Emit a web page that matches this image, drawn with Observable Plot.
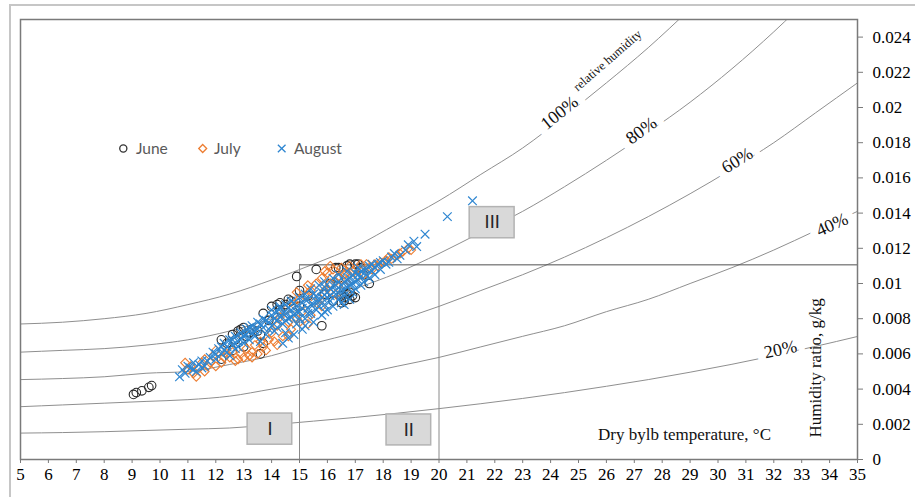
<!DOCTYPE html>
<html><head><meta charset="utf-8">
<script src="https://cdn.jsdelivr.net/npm/d3@7"></script>
<script src="https://cdn.jsdelivr.net/npm/@observablehq/plot@0.6"></script>
<style>
html,body{margin:0;padding:0;background:#fff;}
#wrap{position:relative;width:915px;height:497px;overflow:hidden;}
#border{position:absolute;left:9px;top:4px;right:-5px;bottom:-5px;border-top:2px solid #c6c6c6;border-left:2px solid #c6c6c6;pointer-events:none;}
#legend{position:absolute;left:0;top:0;pointer-events:none;}
</style></head>
<body><div id="wrap"></div>
<script>
// ---- axis ticks ----
const xTicks = [5,6,7,8,9,10,11,12,13,14,15,16,17,18,19,20,21,22,23,24,25,26,27,28,29,30,31,32,33,34,35];
const yTicks = [0,0.002,0.004,0.006,0.008,0.01,0.012,0.014,0.016,0.018,0.02,0.022,0.024];
const yTickLabels = ["0","0.002","0.004","0.006","0.008","0.01","0.012","0.014","0.016","0.018","0.02","0.022","0.024"];

// ---- relative humidity curves ----
const rhTemps = [5,6.5,8,9.5,11,12.5,14,15.5,17,18.5,20,21.5,23,24.5,26,27.5,29,30.5,32,33.5,35];
const rh100 = [0.0077,0.0078,0.0080,0.0083,0.0088,0.0094,0.0102,0.0111,0.0121,0.0134,0.0147,0.0162,0.0177,0.0195,0.0214,0.0234,0.0256,null,null,null,null];
const rh80  = [0.0061,0.0062,0.0063,0.0065,0.0068,0.0073,0.0080,0.0088,0.0097,0.0106,0.0117,0.0129,0.0141,0.0155,0.0170,0.0186,0.0203,0.0222,0.0243,0.0266,null];
const rh60  = [0.00454,0.0046,0.0047,0.0049,0.0050,0.0054,0.0059,0.0066,0.0072,0.0079,0.0087,0.0096,0.0105,0.0115,0.0126,0.0138,0.0151,0.0165,0.0180,0.0197,0.0214];
const rh40  = [0.0030,0.0031,0.0032,0.0033,0.0034,0.0036,0.0040,0.0044,0.0048,0.0053,0.0058,0.0064,0.0070,0.0076,0.0084,0.0091,0.0100,0.0109,0.0119,0.0130,0.0141];
const rh20  = [0.0015,0.00153,0.00158,0.00165,0.00172,0.00179,0.00197,0.00218,0.00239,0.00263,0.00289,0.00317,0.00347,0.00380,0.00416,0.00454,0.00496,0.00541,0.00590,0.00643,0.00699];
const rhNames = ["100%","80%","60%","40%","20%"];
const rhLabels = [
  {text:"100%", t:24.32, w:0.0197,  angle:-39},
  {text:"80%",  t:27.25, w:0.01869, angle:-36},
  {text:"60%",  t:30.69, w:0.01699, angle:-32},
  {text:"40%",  t:34.09, w:0.01334, angle:-24},
  {text:"20%",  t:32.24, w:0.00625, angle:-12}
];

// ---- measurements [temperature °C, humidity ratio kg/kg] ----
const june = [[9.05,0.0037],[9.15,0.0038],[9.35,0.0039],[9.6,0.0041],[9.7,0.0042],
 [12.2,0.0068],[12.2,0.0057],[12.6,0.0062],[12.6,0.0071],[12.8,0.0073],[12.9,0.0074],[13.0,0.0075],[13.0,0.0064],
 [13.2,0.0072],[13.5,0.0073],[13.6,0.0071],[13.6,0.0060],[13.7,0.0066],[13.7,0.0083],[13.9,0.0079],[14.2,0.0088],
 [14.3,0.0089],[14.3,0.0085],[14.5,0.0088],[14.7,0.0090],[14.9,0.0104],[15.0,0.0096],[15.0,0.0087],[15.3,0.0093],
 [15.6,0.0108],[15.8,0.0076],[15.9,0.0094],[16.2,0.0090],[16.4,0.0103],[16.5,0.0089],[16.5,0.0093],[16.6,0.0092],
 [16.6,0.0098],[16.7,0.0110],[16.7,0.0094],[16.8,0.0091],[16.8,0.0111],[16.9,0.0093],[17.1,0.0111],[17.2,0.0109],
 [17.3,0.0105],[17.5,0.0100],[16.4,0.0109],[16.1,0.0100],
 [12.4,0.0066],[12.7,0.0068],[13.1,0.0070],[13.3,0.0074],[14.0,0.0087],[14.6,0.0091],[16.6,0.0090],[16.8,0.0095],
 [17.0,0.0092],[16.3,0.0109],[17.0,0.0111]];
const july = [[10.9,0.0055],[11.0,0.0051],[11.1,0.0053],[11.2,0.0049],[11.3,0.0047],[11.4,0.0052],[11.5,0.0055],
 [11.6,0.0050],[11.6,0.0057],[11.7,0.0053],[11.8,0.0055],[11.9,0.0059],[12.0,0.0053],[12.0,0.0062],[12.2,0.0055],
 [12.3,0.0058],[12.5,0.0058],[12.6,0.0061],[12.8,0.0057],[12.9,0.0060],[13.0,0.0058],[13.1,0.0063],[13.2,0.0059],
 [13.3,0.0061],[13.4,0.0065],[13.5,0.0060],[13.6,0.0067],[13.7,0.0064],[13.9,0.0068],[14.0,0.0072],[14.1,0.0067],
 [14.2,0.0076],[14.3,0.0081],[14.4,0.0070],[14.5,0.0085],[14.6,0.0078],[14.7,0.0074],[14.8,0.0088],[14.9,0.0080],
 [15.0,0.0091],[15.1,0.0084],[15.2,0.0093],[15.3,0.0077],[15.4,0.0096],[15.5,0.0089],[15.6,0.0100],[15.7,0.0092],
 [15.8,0.0103],[15.9,0.0096],[16.0,0.0106],[16.1,0.0100],[16.2,0.0108],[16.3,0.0094],[16.4,0.0104],[16.5,0.0109],
 [16.6,0.0099],[16.7,0.0106],[16.8,0.0110],[16.9,0.0102],[17.0,0.0108],[17.2,0.0111],[17.3,0.0105],[17.5,0.0109],
 [17.7,0.0111],[17.9,0.0112],[18.1,0.0113],[18.3,0.0114],[18.5,0.0116],[18.7,0.0118],[18.9,0.0120],[19.0,0.0119],
 [12.4,0.0060],[12.7,0.0056],[13.3,0.0058],[13.8,0.0062],[14.2,0.0065],[14.6,0.0070],[15.0,0.0078],[15.4,0.0082],
 [15.8,0.0087],[16.0,0.0097],[16.3,0.0101],[16.6,0.0105],[16.9,0.0107],[17.1,0.0104],[17.4,0.0111],[17.6,0.0108],
 [17.8,0.0110],[18.0,0.0112],[18.2,0.0115],[18.6,0.0117],[15.9,0.0107],[16.1,0.0110],[15.3,0.0099],[14.9,0.0095]];
const august = [[10.7,0.0047],[10.8,0.0051],[10.9,0.0049],[11.0,0.0053],[11.1,0.0052],[11.2,0.0055],[11.3,0.0050],
 [11.4,0.0054],[11.5,0.0056],[11.6,0.0053],[11.8,0.0058],[11.9,0.0061],[12.0,0.0057],[12.1,0.0063],[12.2,0.0060],
 [12.3,0.0066],[12.3,0.0062],[12.4,0.0064],[12.5,0.0068],[12.5,0.0059],[12.6,0.0065],[12.7,0.0070],[12.7,0.0063],
 [12.8,0.0067],[12.9,0.0072],[13.0,0.0066],[13.0,0.0070],[13.1,0.0074],[13.2,0.0068],[13.3,0.0072],[13.3,0.0076],
 [13.4,0.0070],[13.5,0.0078],[13.5,0.0074],[13.6,0.0067],[13.7,0.0080],[13.7,0.0075],[13.8,0.0071],[13.9,0.0078],
 [14.0,0.0082],[14.0,0.0076],[14.1,0.0073],[14.2,0.0084],[14.2,0.0079],[14.3,0.0086],[14.3,0.0081],[14.4,0.0066],
 [14.4,0.0077],[14.5,0.0088],[14.5,0.0083],[14.6,0.0069],[14.6,0.0080],[14.7,0.0085],[14.7,0.0090],[14.8,0.0071],
 [14.8,0.0082],[14.9,0.0087],[14.9,0.0077],[15.0,0.0092],[15.0,0.0084],[15.1,0.0074],[15.1,0.0089],[15.2,0.0080],
 [15.2,0.0094],[15.3,0.0086],[15.3,0.0091],[15.4,0.0083],[15.4,0.0097],[15.5,0.0088],[15.5,0.0078],[15.6,0.0093],
 [15.6,0.0085],[15.7,0.0099],[15.7,0.0090],[15.8,0.0082],[15.8,0.0095],[15.9,0.0088],[15.9,0.0101],[16.0,0.0092],
 [16.0,0.0085],[16.1,0.0097],[16.1,0.0090],[16.2,0.0103],[16.2,0.0087],[16.3,0.0094],[16.3,0.0099],[16.4,0.0091],
 [16.4,0.0105],[16.5,0.0096],[16.5,0.0089],[16.6,0.0101],[16.6,0.0093],[16.7,0.0107],[16.7,0.0098],[16.8,0.0091],
 [16.8,0.0103],[16.9,0.0095],[16.9,0.0100],[17.0,0.0106],[17.0,0.0097],[17.1,0.0102],[17.1,0.0109],[17.2,0.0099],
 [17.2,0.0104],[17.3,0.0108],[17.3,0.0101],[17.4,0.0105],[17.5,0.0110],[17.5,0.0103],[17.6,0.0107],[17.7,0.0109],
 [17.8,0.0111],[17.9,0.0108],[18.0,0.0113],[18.2,0.0112],[18.4,0.0117],[18.6,0.0116],[18.9,0.0122],[19.1,0.0124],
 [19.5,0.0128],[20.3,0.0138],[21.2,0.0147],
 [11.2,0.0051],[11.5,0.0052],[11.7,0.0056],[12.0,0.0060],[12.2,0.0064],[12.4,0.0061],[12.6,0.0068],[12.8,0.0064],
 [12.9,0.0069],[13.1,0.0071],[13.2,0.0075],[13.4,0.0073],[13.6,0.0077],[13.8,0.0079],[13.9,0.0074],[14.0,0.0085],
 [14.1,0.0080],[14.2,0.0075],[14.3,0.0087],[14.4,0.0083],[14.5,0.0079],[14.6,0.0086],[14.7,0.0081],[14.8,0.0089],
 [14.9,0.0084],[15.0,0.0080],[15.1,0.0086],[15.2,0.0091],[15.3,0.0083],[15.4,0.0088],[15.5,0.0094],[15.6,0.0090],
 [15.7,0.0087],[15.8,0.0092],[15.9,0.0098],[16.0,0.0095],[16.1,0.0093],[16.2,0.0099],[16.3,0.0096],[16.4,0.0101],
 [16.5,0.0099],[16.6,0.0096],[16.7,0.0102],[16.8,0.0099],[16.9,0.0105],[17.0,0.0101],[17.1,0.0105],[17.2,0.0107],
 [17.4,0.0108],[17.6,0.0111],[17.7,0.0105],[17.9,0.0112],[18.1,0.0111],[18.3,0.0115],[18.5,0.0114],[18.8,0.0119],
 [19.2,0.0121],[14.5,0.0072],[15.2,0.0076],[15.9,0.0084],[16.6,0.0088]];

// ---- zones ----
const zoneBoxes = [
  {name:"I",   t1:13.14, t2:14.74, w1:0.00084, w2:0.00261},
  {name:"II",  t1:18.12, t2:19.72, w1:0.00080, w2:0.00256},
  {name:"III", t1:21.10, t2:22.71, w1:0.01257, w2:0.01434}
];
const zoneH = [{t1:15, t2:35, w:0.01106}];
const zoneV = [{t:15, w1:0, w2:0.01106}, {t:20, w1:0, w2:0.01106}];

const legendItems = [
  {label:"June",   symbol:"circle",  color:"#333333"},
  {label:"July",   symbol:"diamond", color:"#ED7D31"},
  {label:"August", symbol:"times",   color:"#2E86D1"}
];

// build curve table
const rhSeries = [rh100, rh80, rh60, rh40, rh20];
const rhTable = [];
rhSeries.forEach((arr, k) => arr.forEach((w, i) => { if (w != null) rhTable.push({rh: rhNames[k], t: rhTemps[i], w}); }));

const serif = "Liberation Serif, Times New Roman, serif";
const fx = d => d[0], fy = d => d[1];

const chart = Plot.plot({
  width: 915, height: 497,
  marginLeft: 20, marginRight: 58, marginTop: 19, marginBottom: 38,
  x: {domain: [5, 35]},
  y: {domain: [0, 0.025]},
  style: {fontFamily: serif, fontSize: "17px", color: "black", background: "transparent", overflow: "visible"},
  marks: [
    Plot.line(rhTable, {x: "t", y: "w", z: "rh", stroke: "#8f8f8f", strokeWidth: 1, curve: "monotone-x", clip: true}),
    Plot.ruleY(zoneH, {x1: "t1", x2: "t2", y: "w", stroke: "#505050", strokeWidth: 1}),
    Plot.ruleX(zoneV, {x: "t", y1: "w1", y2: "w2", stroke: "#8a8a8a", strokeWidth: 1}),
    Plot.rect(zoneBoxes, {x1: "t1", x2: "t2", y1: "w1", y2: "w2", fill: "#d9d9d9", stroke: "#b3b3b3", strokeWidth: 1.5}),
    Plot.text(zoneBoxes, {x: d => (d.t1 + d.t2) / 2, y: d => (d.w1 + d.w2) / 2, text: "name", fontFamily: "Lato, sans-serif", fontSize: 18, fill: "#262626"}),
    Plot.dot(june, {x: fx, y: fy, symbol: "circle", r: 4.3, stroke: "#262626", fill: "none", strokeWidth: 1.1}),
    Plot.dot(july, {x: fx, y: fy, symbol: "diamond2", r: 4, stroke: "#ED7D31", fill: "none", strokeWidth: 1.1}),
    Plot.dot(august, {x: fx, y: fy, symbol: "times", r: 4, stroke: "#2E86D1", fill: "none", strokeWidth: 1.2}),
    Plot.text(rhLabels, {x: "t", y: "w", text: "text", rotate: "angle", fontFamily: serif, fontSize: 18, fill: "#111", stroke: "white", strokeWidth: 16}),
    Plot.text(["relative humidity"], {x: 26.04, y: 0.02267, text: d => d, rotate: -41, fontFamily: serif, fontSize: 12.5, fill: "#111"}),
    Plot.text(["Dry bylb temperature, °C"], {x: 28.8, y: 0.00139, text: d => d, fontFamily: serif, fontSize: 17, fill: "#111"}),
    Plot.text(["Humidity ratio, g/kg"], {x: 33.48, y: 0.00125, text: d => d, rotate: -90, textAnchor: "start", fontFamily: serif, fontSize: 17, fill: "#111"}),
    Plot.frame({stroke: "#7a7a7a", strokeWidth: 1.5}),
    Plot.axisX({ticks: xTicks, tickFormat: d => String(d), tickSize: 4, tickPadding: 4, stroke: "#7a7a7a", fill: "black", label: null}),
    Plot.axisY({anchor: "right", ticks: yTicks, tickFormat: d => yTickLabels[yTicks.indexOf(d)], tickSize: 5, tickPadding: 10, stroke: "#7a7a7a", fill: "black", label: null})
  ]
});

const wrap = document.getElementById("wrap");
wrap.appendChild(chart);

// legend overlay
const legendPos = [{sx: 123.3, tx: 136}, {sx: 202.7, tx: 214}, {sx: 281.7, tx: 294}];
const lg = d3.select(wrap).append("svg").attr("id", "legend").attr("width", 915).attr("height", 497);
legendItems.forEach((it, i) => {
  const p = legendPos[i];
  const sym = it.symbol === "circle" ? d3.symbolCircle : it.symbol === "diamond" ? d3.symbolDiamond2 : d3.symbolTimes;
  lg.append("path").attr("d", d3.symbol(sym, 40)()).attr("transform", `translate(${p.sx},148.5)`)
    .attr("fill", "none").attr("stroke", it.color).attr("stroke-width", 1.3);
  lg.append("text").attr("x", p.tx).attr("y", 148.5).attr("dy", "0.35em")
    .attr("font-family", "Lato, sans-serif").attr("font-size", 15.5).attr("fill", "#595959").text(it.label);
});
const border = document.createElement("div");
border.id = "border";
wrap.appendChild(border);
</script>
</body></html>
